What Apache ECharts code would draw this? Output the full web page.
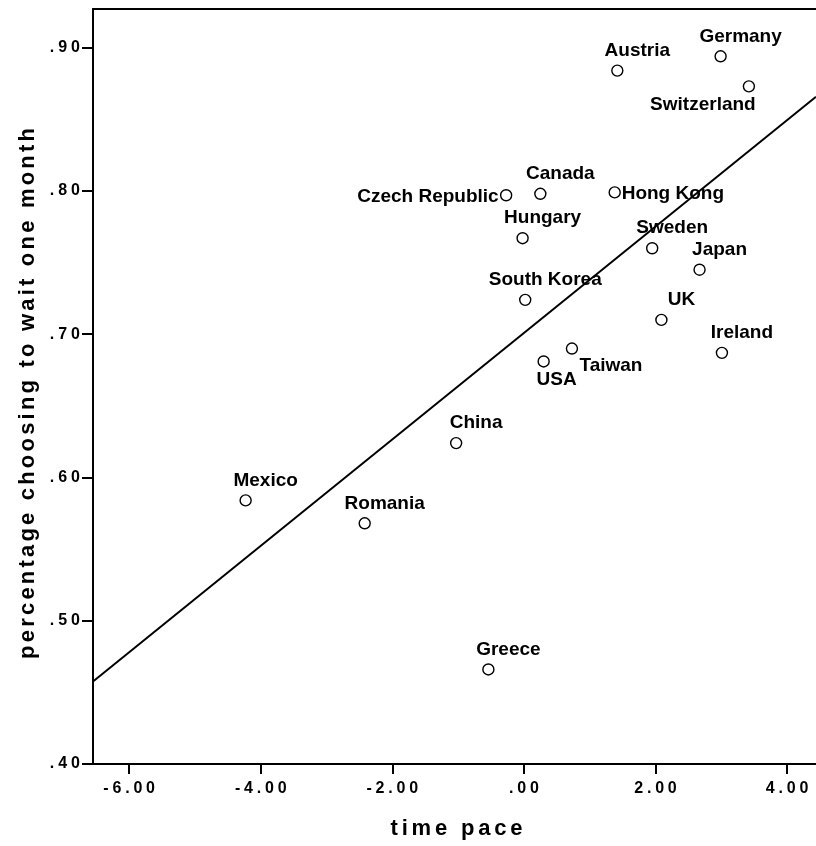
<!DOCTYPE html>
<html>
<head>
<meta charset="utf-8">
<script src="https://cdn.jsdelivr.net/npm/echarts@6/dist/echarts.min.js"></script>
<style>
  html, body { margin: 0; padding: 0; background: #fff; }
  #chart { width: 816px; height: 846px; }
</style>
</head>
<body>
<div id="chart"></div>
<script>
// data
const countries = ["Germany", "Austria", "Switzerland", "Hong Kong", "Czech Republic", "Canada", "Hungary", "South Korea", "Sweden", "Japan", "UK", "Ireland", "Taiwan", "USA", "China", "Mexico", "Romania", "Greece"];
const timePace = [2.99, 1.42, 3.42, 1.38, -0.27, 0.25, -0.02, 0.02, 1.95, 2.67, 2.09, 3.01, 0.73, 0.3, -1.03, -4.23, -2.42, -0.54];
const waitShare = [0.894, 0.884, 0.873, 0.799, 0.797, 0.798, 0.767, 0.724, 0.76, 0.745, 0.71, 0.687, 0.69, 0.681, 0.624, 0.584, 0.568, 0.466];

const xTicks = [-6, -4, -2, 0, 2, 4];
const yTicks = [0.4, 0.5, 0.6, 0.7, 0.8, 0.9];

// axis extents (the plot runs off the right edge)
const xMin = -6.55, xMax = 4.44;
const yMin = 0.4, yMax = 0.927;

// labels that are not sitting up-right of their point
const labelPlace = {
  "Switzerland": { offset: [-46, 18] },
  "Hong Kong": { offset: [7, 1.5], align: "left" },
  "Czech Republic": { offset: [-7.5, 1.5], align: "right" },
  "USA": { offset: [13, 18] },
  "Taiwan": { offset: [39, 17] },
};

// least squares fit line
const n = timePace.length;
const mx = timePace.reduce((a, b) => a + b, 0) / n;
const my = waitShare.reduce((a, b) => a + b, 0) / n;
let sxy = 0, sxx = 0;
timePace.forEach((x, i) => {
  sxy += (x - mx) * (waitShare[i] - my);
  sxx += (x - mx) * (x - mx);
});
const slope = sxy / sxx;
const icpt = my - slope * mx;
const fitLine = [xMin, xMax].map((x) => [x, icpt + slope * x]);

const font = "Liberation Sans, Arial, sans-serif";
const black = { color: "#000", width: 2 };

// SPSS style number: .40, -6.00
const fmt = (v) => v.toFixed(2).replace(/^(-?)0\./, "$1.");
// wide letter spacing
const spread = (s) => s.split("").join("{sp| }");

const chart = echarts.init(document.getElementById("chart"));
chart.setOption({
  backgroundColor: "#fff",
  animation: false,
  grid: {
    left: 93,
    top: 9,
    bottom: 82,
    right: 0,
  },
  xAxis: [
    {
      type: "value",
      min: xMin,
      max: xMax,
      name: spread("time pace"),
      nameLocation: "middle",
      nameGap: 54,
      nameTextStyle: {
        color: "#000",
        fontFamily: font,
        fontWeight: "bold",
        fontSize: 22,
        padding: [0, 0, 0, 4],
        rich: { sp: { width: 3.8 } },
      },
      axisLine: { show: true, onZero: false, lineStyle: black },
      splitLine: { show: false },
      axisTick: {
        show: true,
        length: 10,
        lineStyle: black,
        customValues: xTicks,
      },
      axisLabel: {
        color: "#000",
        fontFamily: font,
        fontWeight: "bold",
        fontSize: 16,
        margin: 17,
        customValues: xTicks,
        formatter: (v) => spread(fmt(v)),
        rich: { sp: { width: 3.8 } },
      },
    },
    {
      // top frame line only
      type: "value",
      position: "top",
      min: xMin,
      max: xMax,
      axisLine: { show: true, onZero: false, lineStyle: black },
      axisTick: { show: false },
      axisLabel: { show: false },
      splitLine: { show: false },
    },
  ],
  yAxis: {
    type: "value",
    min: yMin,
    max: yMax,
    name: spread("percentage choosing to wait one month"),
    nameLocation: "middle",
    nameGap: 43,
    nameTextStyle: {
      color: "#000",
      fontFamily: font,
      fontWeight: "bold",
      fontSize: 22,
      padding: [0, 14, 0, 0],
      rich: { sp: { width: 3.2 } },
    },
    axisLine: { show: true, onZero: false, lineStyle: black },
    splitLine: { show: false },
    axisTick: {
      show: true,
      length: 11,
      lineStyle: black,
      customValues: yTicks,
    },
    axisLabel: {
      color: "#000",
      fontFamily: font,
      fontWeight: "bold",
      fontSize: 16,
      margin: 13,
      customValues: yTicks,
      formatter: (v) => spread(fmt(v)),
      rich: { sp: { width: 4 } },
    },
  },
  series: [
    {
      // fit line
      type: "line",
      data: fitLine,
      symbol: "none",
      silent: true,
      z: 1,
      lineStyle: { color: "#000", width: 2 },
    },
    {
      type: "scatter",
      z: 2,
      symbol: "circle",
      symbolSize: 11,
      itemStyle: { color: "#fff", borderColor: "#000", borderWidth: 1.4, opacity: 1 },
      label: {
        show: true,
        position: "inside",
        offset: [20, -20],
        formatter: "{b}",
        color: "#000",
        fontFamily: font,
        fontWeight: "bold",
        fontSize: 19,
        textBorderWidth: 0,
      },
      data: countries.map((c, i) => ({
        name: c,
        value: [timePace[i], waitShare[i]],
        label: labelPlace[c] || {},
      })),
    },
  ],
});
</script>
</body>
</html>
